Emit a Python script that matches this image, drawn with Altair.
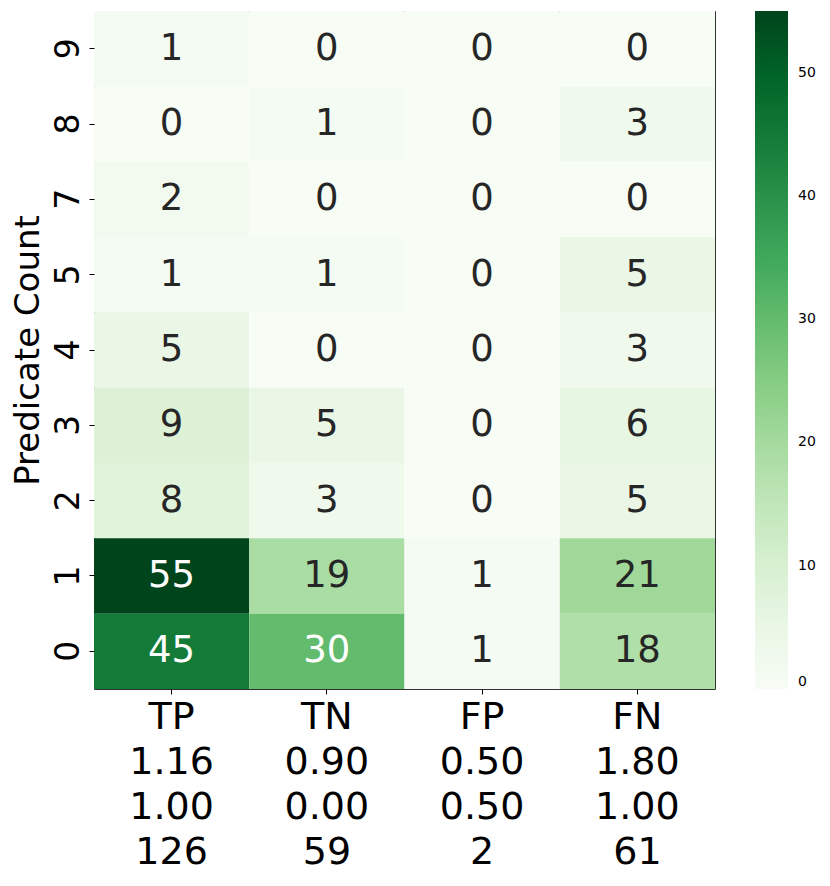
import altair as alt
import pandas as pd

categories = ["TP", "TN", "FP", "FN"]
means = ["1.16", "0.90", "0.50", "1.80"]
medians = ["1.00", "0.00", "0.50", "1.00"]
totals = ["126", "59", "2", "61"]
row_labels = ["9", "8", "7", "5", "4", "3", "2", "1", "0"]
counts = [
    [1, 0, 0, 0],
    [0, 1, 0, 3],
    [2, 0, 0, 0],
    [1, 1, 0, 5],
    [5, 0, 0, 3],
    [9, 5, 0, 6],
    [8, 3, 0, 5],
    [55, 19, 1, 21],
    [45, 30, 1, 18],
]
greens = ["#f7fcf5", "#e5f5e0", "#c7e9c0", "#a1d99b", "#74c476",
          "#41ab5d", "#238b45", "#006d2c", "#00441b"]
vmax = 55

col_labels = [f"{c}\n{m}\n{md}\n{t}" for c, m, md, t in zip(categories, means, medians, totals)]

records = []
for r, row in zip(row_labels, counts):
    for c, v in zip(col_labels, row):
        records.append({"row": r, "col": c, "value": v})
df = pd.DataFrame(records)

color_domain = [vmax * i / (len(greens) - 1) for i in range(len(greens))]

FONT = "DejaVu Sans"

base = alt.Chart(df).encode(
    x=alt.X("col:N", sort=col_labels, title=None,
            scale=alt.Scale(paddingInner=0, paddingOuter=0),
            axis=alt.Axis(labelExpr="split(datum.label, '\\n')", labelAngle=0,
                          labelFontSize=38, labelLineHeight=45, labelFont=FONT,
                          labelColor="black", labelPadding=4, tickSize=5,
                          tickColor="black", domain=False, labelBaseline="top")),
    y=alt.Y("row:N", sort=row_labels, title="Predicate Count",
            scale=alt.Scale(paddingInner=0, paddingOuter=0),
            axis=alt.Axis(labelAngle=270, labelFontSize=33, labelFont=FONT,
                          labelColor="black", labelAlign="center", labelBaseline="bottom",
                          labelPadding=4, tickSize=5, tickColor="black", domain=False,
                          titleFontSize=34, titleFont=FONT, titleFontWeight="normal",
                          titleColor="black", titlePadding=7)),
)

rects = base.mark_rect().encode(
    color=alt.Color("value:Q",
                    scale=alt.Scale(domain=color_domain, range=greens),
                    legend=alt.Legend(title=None, gradientLength=678, gradientThickness=33,
                                      values=[0, 10, 20, 30, 40, 50], labelFontSize=14,
                                      labelFont=FONT, labelColor="black", labelOffset=10,
                                      gradientStrokeWidth=0, offset=40, orient="right",
                                      direction="vertical")),
)

texts = base.mark_text(fontSize=37, font=FONT).encode(
    text=alt.Text("value:Q"),
    color=alt.condition("datum.value > 25", alt.value("white"), alt.value("#262626")),
)

chart = (rects + texts).properties(
    width=621, height=678,
    padding={"left": 3, "top": 3, "right": 5, "bottom": 5},
).configure_view(stroke="#333333", strokeWidth=1)

chart.save("out.html", embed_options={"renderer": "svg", "actions": False})
